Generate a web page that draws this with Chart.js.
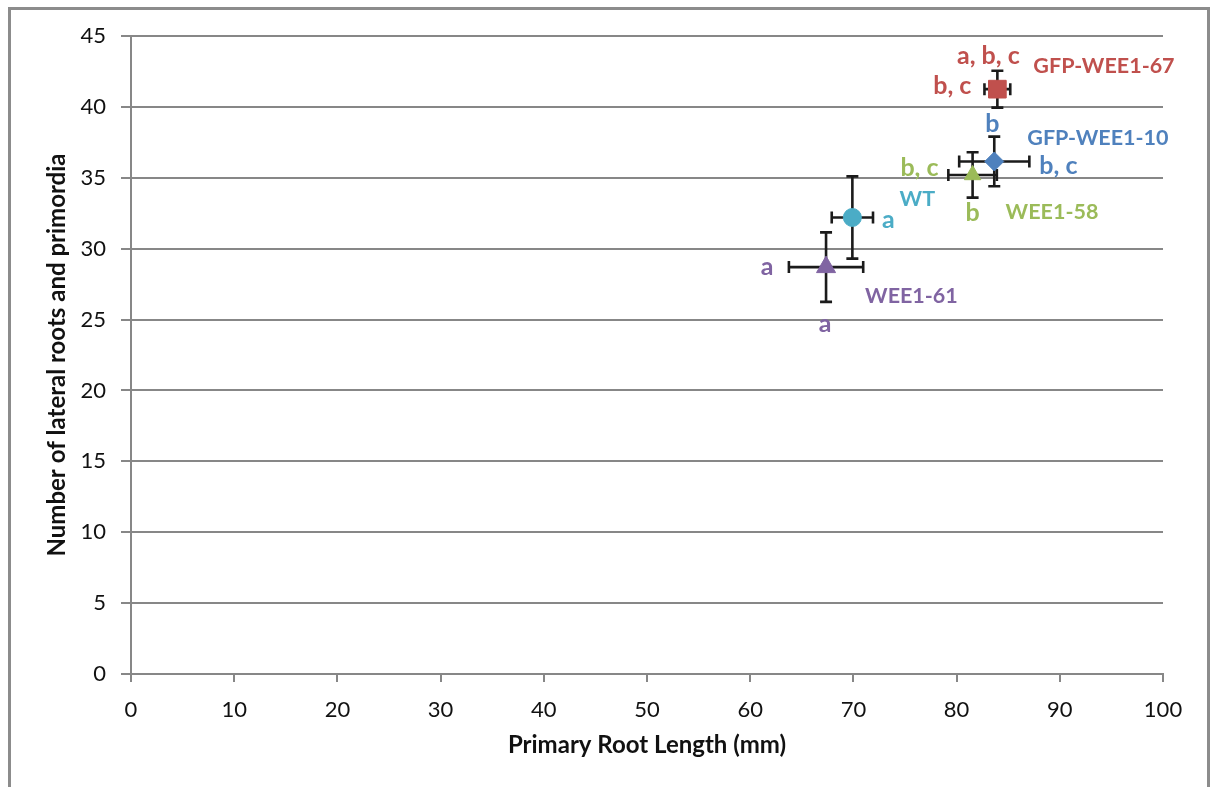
<!DOCTYPE html>
<html><head><meta charset="utf-8">
<script src="https://cdn.jsdelivr.net/npm/chart.js@4/dist/chart.umd.min.js"></script>
<style>
html,body{margin:0;padding:0;background:#fff;overflow:hidden;}
#wrap{position:relative;width:1215px;height:787px;}
#frame{position:absolute;left:8px;top:7px;width:1202px;height:820px;border:3px solid #8c8c8c;box-sizing:border-box;pointer-events:none;}
canvas{position:absolute;left:0;top:0;}
</style></head><body>
<div id="wrap"><canvas id="c" width="1215" height="787"></canvas><div id="frame"></div></div>
<script>
// ---- data ----
const genotypes = ['WT', 'WEE1-61', 'WEE1-58', 'GFP-WEE1-10', 'GFP-WEE1-67'];
const rootLength = [69.9, 67.35, 81.55, 83.65, 83.95];          // mm
const rootLengthErr = [2.0, 3.6, 2.35, 3.4, 1.25];
const lateralRoots = [32.2, 28.7, 35.2, 36.15, 41.25];
const lateralRootsErr = [2.9, 2.45, 1.6, 1.75, 1.3];
const lengthLetters = ['a', 'a', 'b, c', 'b, c', 'b, c'];
const countLetters = ['', 'a', 'b', 'b', 'a, b, c'];
const xTicks = [0, 10, 20, 30, 40, 50, 60, 70, 80, 90, 100];
const yTicks = [0, 5, 10, 15, 20, 25, 30, 35, 40, 45];

// ---- styles ----
const colors = ['#4BACC6', '#8064A2', '#9BBB59', '#4F81BD', '#C0504D'];
const shapes = ['circle', 'triangle', 'triangle', 'rectRot', 'rect'];
const radii = [9, 11, 9.5, 9.5, 12.5];
// label placement offsets (pixels relative to the point)
const namePos = [{dx:65,dy:-18,a:'center'},{dx:39,dy:29,a:'left'},{dx:33,dy:37,a:'left'},{dx:33,dy:-23,a:'left'},{dx:36,dy:-23,a:'left'}];
const lenPos  = [{dx:36,dy:2,a:'center'},{dx:-59,dy:0,a:'center'},{dx:-34,dy:-7,a:'right'},{dx:45,dy:4,a:'left'},{dx:-26,dy:-3,a:'right'}];
const cntPos  = [null,{dx:-1,dy:57,a:'center'},{dx:0,dy:38,a:'center'},{dx:-2,dy:-38,a:'center'},{dx:-9,dy:-33,a:'center'}];

const FONT = 'Lato, "Open Sans", sans-serif';
const GRID = '#878787';

const errorBars = {
  id: 'errorBars',
  beforeDatasetsDraw(chart) {
    const {ctx, scales: {x, y}} = chart;
    ctx.save();
    ctx.strokeStyle = '#1b1b1b';
    ctx.lineWidth = 2.6;
    const cap = 6;
    genotypes.forEach((g, i) => {
      const px = x.getPixelForValue(rootLength[i]);
      const py = y.getPixelForValue(lateralRoots[i]);
      const xl = x.getPixelForValue(rootLength[i] - rootLengthErr[i]);
      const xr = x.getPixelForValue(rootLength[i] + rootLengthErr[i]);
      const yt = y.getPixelForValue(lateralRoots[i] + lateralRootsErr[i]);
      const yb = y.getPixelForValue(lateralRoots[i] - lateralRootsErr[i]);
      ctx.beginPath();
      ctx.moveTo(xl, py); ctx.lineTo(xr, py);
      ctx.moveTo(xl, py - cap); ctx.lineTo(xl, py + cap);
      ctx.moveTo(xr, py - cap); ctx.lineTo(xr, py + cap);
      ctx.moveTo(px, yt); ctx.lineTo(px, yb);
      ctx.moveTo(px - cap, yt); ctx.lineTo(px + cap, yt);
      ctx.moveTo(px - cap, yb); ctx.lineTo(px + cap, yb);
      ctx.stroke();
    });
    ctx.restore();
  }
};

const labels = {
  id: 'labels',
  afterDatasetsDraw(chart) {
    const {ctx, scales: {x, y}} = chart;
    ctx.save();
    ctx.textBaseline = 'middle';
    const put = (txt, p, px, py, font, col) => {
      if (!txt || !p) return;
      ctx.font = font; ctx.fillStyle = col; ctx.textAlign = p.a;
      ctx.fillText(txt, px + p.dx, py + p.dy);
    };
    genotypes.forEach((g, i) => {
      const px = x.getPixelForValue(rootLength[i]);
      const py = y.getPixelForValue(lateralRoots[i]);
      put(g, namePos[i], px, py, 'bold 21.5px ' + FONT, colors[i]);
      put(lengthLetters[i], lenPos[i], px, py, 'bold 25px ' + FONT, colors[i]);
      put(countLetters[i], cntPos[i], px, py, 'bold 25px ' + FONT, colors[i]);
    });
    ctx.restore();
  }
};

const datasets = genotypes.map((g, i) => ({
  label: g,
  data: [{x: rootLength[i], y: lateralRoots[i]}],
  pointStyle: shapes[i],
  pointRadius: radii[i],
  pointBackgroundColor: colors[i],
  pointBorderColor: colors[i],
  pointBorderWidth: 1,
  showLine: false
}));

new Chart(document.getElementById('c'), {
  type: 'scatter',
  data: {datasets},
  plugins: [errorBars, labels],
  options: {
    responsive: false,
    devicePixelRatio: 1,
    animation: false,
    layout: {padding: {left: 0, top: 36, right: 52, bottom: 0}},
    plugins: {legend: {display: false}, tooltip: {enabled: false}},
    scales: {
      x: {
        type: 'linear', min: xTicks[0], max: xTicks[xTicks.length - 1],
        afterBuildTicks: s => { s.ticks = xTicks.map(v => ({value: v})); },
        afterFit: s => { s.height = 113; },
        ticks: {font: {family: FONT, size: 22}, color: '#111', padding: 15, maxRotation: 0},
        grid: {drawOnChartArea: false, drawTicks: true, tickLength: 8, color: GRID, lineWidth: 2},
        border: {color: GRID, width: 2},
        title: {display: true, text: 'Primary Root Length (mm)', color: '#111',
                font: {family: FONT, size: 24, weight: 'bold'}, padding: {top: 0, bottom: 27}}
      },
      y: {
        type: 'linear', min: yTicks[0], max: yTicks[yTicks.length - 1],
        afterBuildTicks: s => { s.ticks = yTicks.map(v => ({value: v})); },
        afterFit: s => { s.width = 131; },
        ticks: {font: {family: FONT, size: 22}, color: '#111', padding: 15},
        grid: {drawOnChartArea: true, drawTicks: true, tickLength: 10, color: GRID, lineWidth: 2},
        border: {color: GRID, width: 2},
        title: {display: true, text: 'Number of lateral roots and primordia', color: '#111',
                font: {family: FONT, size: 24, weight: 'bold'}, padding: {top: 43, bottom: 0}}
      }
    }
  }
});
</script>
</body></html>
